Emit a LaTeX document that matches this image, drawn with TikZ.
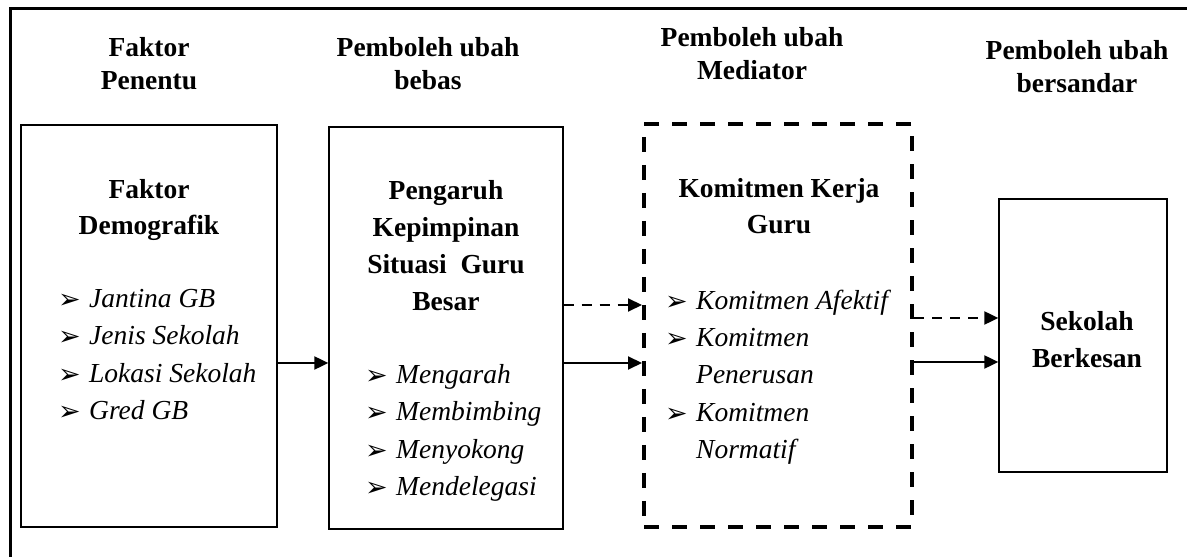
\documentclass[tikz,border=0pt]{standalone}
\usepackage{fontspec}
\setmainfont{Liberation Serif}
\newfontfamily\dingfont{DejaVu Sans}
\usetikzlibrary{arrows.meta}
\newcommand{\itembullet}{\makebox[31pt][l]{\raisebox{-1pt}{\dingfont\upshape\fontsize{27}{27}\selectfont\char"27A2}}}
\newcommand{\itemgap}{\makebox[31pt]{}}
\tikzset{
    plain-box/.style = {draw, line width=1.3pt, rectangle, inner sep=0pt},
    dashed-box/.style = {draw, line width=4pt, dash pattern=on 15pt off 13pt, rectangle, inner sep=0pt},
    head-text/.style = {font=\bfseries\fontsize{27.5}{33}\selectfont, align=center, inner sep=0pt, anchor=north},
    box-title/.style = {font=\bfseries\fontsize{27.5}{36}\selectfont, align=center, inner sep=0pt, anchor=north},
    box-list/.style = {font=\itshape\fontsize{27.5}{37.3}\selectfont, align=left, inner sep=0pt, anchor=north west},
    link/.style = {line width=2pt, -{Triangle[length=14pt,width=13pt]}},
    dashed-link/.style = {link, dash pattern=on 10pt off 8pt},
}

\begin{document}
\begin{tikzpicture}[x=1pt, y=1pt]
\useasboundingbox (0,0) rectangle (1187,557);
\draw[line width=3pt] (10.5,0) -- (10.5,548.5) -- (1187,548.5);

\node[head-text] (head-faktor) at (149,519.6) {Faktor\\Penentu};
\node[head-text] (head-bebas) at (428,519.6) {Pemboleh ubah\\bebas};
\node[head-text] (head-mediator) at (752,529.5) {Pemboleh ubah\\Mediator};
\node[head-text] (head-bersandar) at (1077,516.6) {Pemboleh ubah\\bersandar};

\node[plain-box, minimum width=256pt, minimum height=402pt] (demografik) at (149,231) {};
\node[plain-box, minimum width=234pt, minimum height=402pt] (kepimpinan) at (446,229) {};
\node[dashed-box, minimum width=268pt, minimum height=403pt] (komitmen) at (778,231.5) {};
\node[plain-box, minimum width=168pt, minimum height=273pt] (berkesan) at (1083,221.5) {};

\node[box-title] (title-demografik) at (149,377.6) {Faktor\\Demografik};
\node[box-list] (list-demografik) at (58,267.8) {\itembullet Jantina GB\\\itembullet Jenis Sekolah\\\itembullet Lokasi Sekolah\\\itembullet Gred GB};

\node[box-title, font=\bfseries\fontsize{27.5}{37}\selectfont] (title-kepimpinan) at (446,376.6) {Pengaruh\\Kepimpinan\\Situasi~ Guru\\Besar};
\node[box-list] (list-kepimpinan) at (365,192.8) {\itembullet Mengarah\\\itembullet Membimbing\\\itembullet Menyokong\\\itembullet Mendelegasi};

\node[box-title] (title-komitmen) at (779,378.6) {Komitmen Kerja\\Guru};
\node[box-list] (list-komitmen) at (665,267.3) {\itembullet Komitmen Afektif\\\itembullet Komitmen\\\itemgap Penerusan\\\itembullet Komitmen\\\itemgap Normatif};

\node[box-title, font=\bfseries\fontsize{27.5}{37}\selectfont] (title-berkesan) at (1087,245.6) {Sekolah\\Berkesan};

\draw[link] ([yshift=-37pt]demografik.east) -- ([yshift=-37pt]demografik.east -| kepimpinan.west);
\draw[dashed-link] ([yshift=23pt]kepimpinan.east) -- ([yshift=23pt]kepimpinan.east -| komitmen.west);
\draw[link] ([yshift=-35pt]kepimpinan.east) -- ([yshift=-35pt]kepimpinan.east -| komitmen.west);
\draw[dashed-link] ([yshift=7.5pt]komitmen.east) -- ([yshift=7.5pt]komitmen.east -| berkesan.west);
\draw[link] ([yshift=-36.5pt]komitmen.east) -- ([yshift=-36.5pt]komitmen.east -| berkesan.west);
\end{tikzpicture}
\end{document}
